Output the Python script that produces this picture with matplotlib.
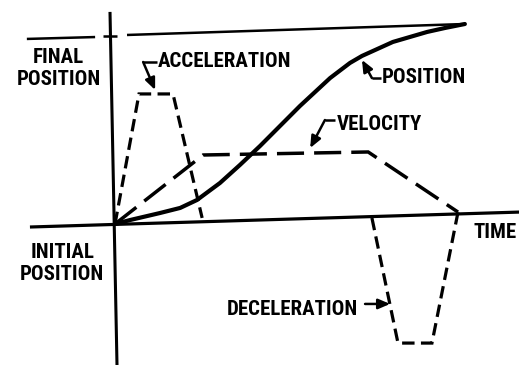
import matplotlib
matplotlib.use("Agg")
import matplotlib.pyplot as plt
from matplotlib import font_manager

# ---- data (time in arbitrary units 0..10, value normalised: final position ~1) ----
pos_t = [0, 0.44, 1.31, 1.90, 2.39, 3.06, 3.64, 4.23, 5.39, 6.27, 6.85, 7.20, 8.10, 9.10, 9.62, 10.20]
pos_v = [0, 0.021, 0.058, 0.085, 0.127, 0.217, 0.312, 0.413, 0.624, 0.772, 0.852, 0.889, 0.963, 1.016, 1.037, 1.058]

vel_t = [0, 2.57, 7.38, 10.0]
vel_v = [0, 0.365, 0.381, 0.063]

acc_t = [0, 0.70, 1.69, 2.54]
acc_v = [0, 0.688, 0.688, 0.032]

dec_t = [7.49, 8.25, 9.24, 10.0]
dec_v = [0.032, -0.630, -0.630, 0.063]

# axes of the diagram
time_axis_t = [-2.48, 11.78]
time_axis_v = [-0.016, 0.063]
pos_axis_t = [-0.146, 0.058]
pos_axis_v = [1.122, -0.746]
final_left_t = [-2.57, -0.58]
final_left_v = [0.979, 0.989]
final_tick_t = [-0.35, 0.06]
final_tick_v = [0.995, 0.995]
final_right_t = [0.35, 10.20]
final_right_v = [1.0, 1.058]

# leaders (label pointers)
acc_lead_t = [1.22, 0.82, 1.17]
acc_lead_v = [0.857, 0.857, 0.709]
pos_lead_t = [7.76, 7.49, 7.20]
pos_lead_v = [0.772, 0.772, 0.868]
vel_lead_t = [6.41, 6.12, 5.69]
vel_lead_v = [0.550, 0.550, 0.402]
dec_lead_t = [7.29, 8.02]
dec_lead_v = [-0.423, -0.423]

# labels: (text, t, v, ha)
labels = [
    ("FINAL", -1.66, 0.852, "center"),
    ("POSITION", -1.63, 0.735, "center"),
    ("INITIAL", -1.53, -0.180, "center"),
    ("POSITION", -1.56, -0.296, "center"),
    ("ACCELERATION", 1.25, 0.831, "left"),
    ("POSITION", 7.78, 0.746, "left"),
    ("VELOCITY", 6.47, 0.497, "left"),
    ("TIME", 11.70, -0.074, "right"),
    ("DECELERATION", 7.08, -0.481, "right"),
]

# pick a narrow font if one is installed, else a compact one at a smaller size
fl = font_manager.fontManager.ttflist
names = {f.name for f in fl}
font = None
for nm in ["Liberation Sans Narrow", "Roboto Condensed", "Open Sans Condensed"]:
    if nm in names:
        font = dict(family=[nm, "DejaVu Sans"], fontsize=15, fontweight="bold")
        break
if font is None and any(f.name == "DejaVu Sans" and f.stretch == "condensed" for f in fl):
    font = dict(family=["DejaVu Sans"], fontstretch="condensed", fontsize=14, fontweight="bold")
if font is None:
    font = dict(family=["Liberation Sans", "DejaVu Sans"], fontsize=12.8, fontweight="bold")

fig = plt.figure(figsize=(5.19, 3.65), dpi=100)
ax = fig.add_axes([0, 0, 1, 1])
ax.set_xlim(-3.353, 11.778)
ax.set_ylim(-0.746, 1.185)
ax.axis("off")

k = "black"
ax.plot(time_axis_t, time_axis_v, color=k, lw=2.3, solid_capstyle="butt")
ax.plot(pos_axis_t, pos_axis_v, color=k, lw=2.2, solid_capstyle="butt")
for tt, vv in [(final_left_t, final_left_v), (final_tick_t, final_tick_v), (final_right_t, final_right_v)]:
    ax.plot(tt, vv, color=k, lw=1.8, solid_capstyle="butt")

ax.plot(pos_t, pos_v, color=k, lw=3.0, solid_capstyle="round", solid_joinstyle="round")
ax.plot(vel_t, vel_v, color=k, lw=2.5, dashes=(7.8, 2.9), dash_capstyle="butt", dash_joinstyle="miter")
ax.plot(acc_t, acc_v, color=k, lw=2.3, dashes=(3.9, 2.0), dash_capstyle="butt", dash_joinstyle="miter")
ax.plot(dec_t, dec_v, color=k, lw=2.3, dashes=(3.9, 2.0), dash_capstyle="butt", dash_joinstyle="miter")

for tt, vv in [(acc_lead_t, acc_lead_v), (pos_lead_t, pos_lead_v), (vel_lead_t, vel_lead_v), (dec_lead_t, dec_lead_v)]:
    ax.plot(tt[:-1], vv[:-1], color=k, lw=1.8, solid_capstyle="butt")
    ax.annotate("", xy=(tt[-1], vv[-1]), xytext=(tt[-2], vv[-2]),
                arrowprops=dict(arrowstyle="-|>,head_length=0.7,head_width=0.3", color=k, lw=1.8,
                                shrinkA=0, shrinkB=0))

for txt, t, v, ha in labels:
    ax.text(t, v, txt, ha=ha, va="baseline", color=k, **font)

fig.savefig("out.png", dpi=100)
